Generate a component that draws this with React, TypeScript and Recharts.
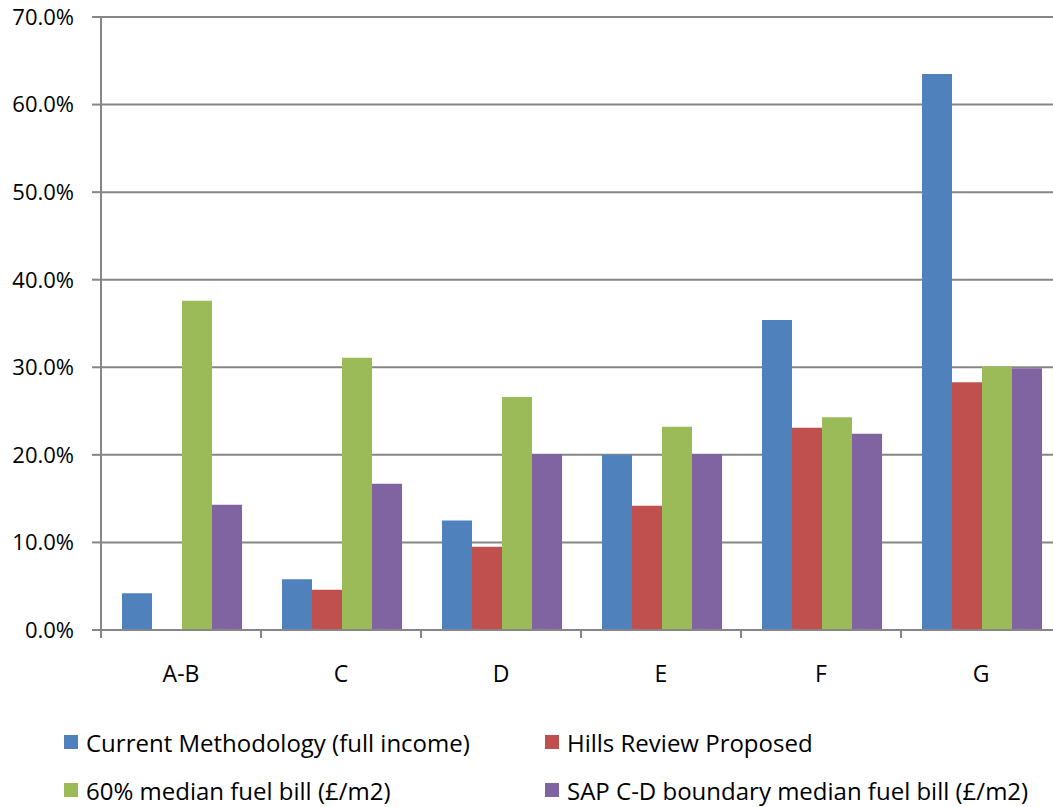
import { BarChart, Bar, XAxis, YAxis, CartesianGrid } from "recharts";

// fuel poverty rate by SAP band, four definitions
const categories = ["A-B", "C", "D", "E", "F", "G"];
const currentMethodology = [4.2, 5.8, 12.5, 20.0, 35.4, 63.5];
const hillsProposed = [0, 4.6, 9.5, 14.2, 23.1, 28.3];
const sixtyMedian = [37.6, 31.1, 26.6, 23.2, 24.3, 30.1];
const sapBoundary = [14.3, 16.7, 20.1, 20.1, 22.4, 29.9];
const yTicks = [0, 10, 20, 30, 40, 50, 60, 70];

const series = [
  { key: "current", name: "Current Methodology (full income)", color: "#4F81BD", values: currentMethodology },
  { key: "hills", name: "Hills Review Proposed", color: "#C0504D", values: hillsProposed },
  { key: "sixty", name: "60% median fuel bill (£/m2)", color: "#9BBB59", values: sixtyMedian },
  { key: "sap", name: "SAP C-D boundary median fuel bill (£/m2)", color: "#8064A2", values: sapBoundary },
];

const data = categories.map((cat, i) => {
  const row: Record<string, string | number> = { cat };
  series.forEach((s) => (row[s.key] = s.values[i]));
  return row;
});

const FONT = "'Open Sans', Lato, sans-serif";
const AXIS_GREY = "#868686";

// category label centred in the band, tick marks on the band edges
function CategoryTick(props: any) {
  const { x, y, payload, index, visibleTicksCount } = props;
  const half = payload?.offset ?? 0;
  const last = index === visibleTicksCount - 1;
  return (
    <g>
      <line x1={x - half} x2={x - half} y1={y} y2={y + 8} stroke={AXIS_GREY} strokeWidth={2} />
      {last && <line x1={x + half} x2={x + half} y1={y} y2={y + 8} stroke={AXIS_GREY} strokeWidth={2} />}
      <text x={x} y={y + 52} textAnchor="middle" fill="#000" fontSize={23} fontFamily={FONT}>
        {payload.value}
      </text>
    </g>
  );
}

export default function App() {
  return (
    <div style={{ position: "absolute", left: 0, top: 0, width: 1053, height: 807, overflow: "hidden", background: "#fff" }}>
      <BarChart
        width={1075}
        height={807}
        data={data}
        margin={{ top: 17, right: 14, left: 0, bottom: 137 }}
        barCategoryGap={21}
        barGap={0}
      >
        <CartesianGrid vertical={false} stroke={AXIS_GREY} strokeWidth={2} />
        <XAxis
          dataKey="cat"
          height={40}
          axisLine={{ stroke: AXIS_GREY, strokeWidth: 2 }}
          tickLine={false}
          tickSize={0}
          tickMargin={0}
          tick={<CategoryTick />}
          interval={0}
        />
        <YAxis
          width={101}
          domain={[0, 70]}
          ticks={yTicks}
          interval={0}
          tickFormatter={(v: number) => `${v.toFixed(1)}%`}
          axisLine={{ stroke: AXIS_GREY, strokeWidth: 2 }}
          tickLine={{ stroke: AXIS_GREY, strokeWidth: 2 }}
          tickSize={9}
          tickMargin={18}
          tick={{ fill: "#000", fontSize: 22, fontFamily: FONT }}
        />
        {series.map((s) => (
          <Bar key={s.key} dataKey={s.key} name={s.name} fill={s.color} isAnimationActive={false} />
        ))}
      </BarChart>

      {/* legend: two rows of two */}
      <div
        style={{
          position: "absolute",
          left: 64,
          top: 726,
          display: "grid",
          gridTemplateColumns: "481px auto",
          rowGap: 16,
          fontFamily: FONT,
          fontSize: 24,
          color: "#000",
        }}
      >
        {series.map((s) => (
          <div key={s.key} style={{ display: "flex", alignItems: "center", height: 32 }}>
            <span style={{ width: 14, height: 14, background: s.color, marginRight: 8, flexShrink: 0 }} />
            <span style={{ whiteSpace: "nowrap" }}>{s.name}</span>
          </div>
        ))}
      </div>
    </div>
  );
}
